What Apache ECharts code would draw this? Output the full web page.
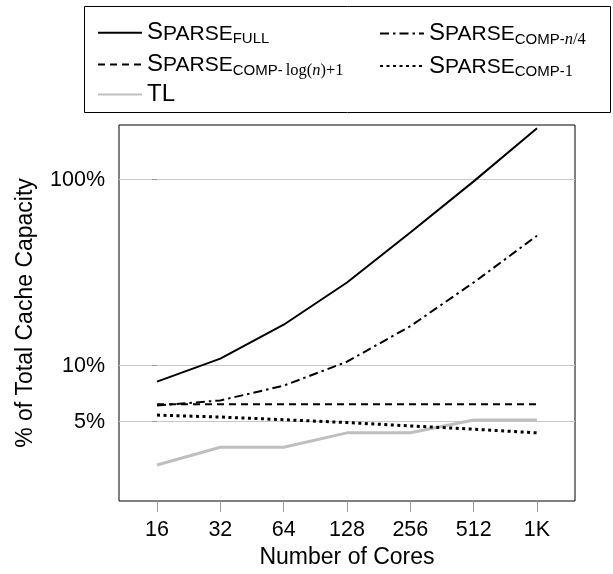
<!DOCTYPE html>
<html>
<head>
<meta charset="utf-8">
<script src="https://cdn.jsdelivr.net/npm/echarts@6/dist/echarts.min.js"></script>
<style>html,body{margin:0;padding:0;background:#fff;}#c{width:613px;height:574px;}</style>
</head>
<body>
<div id="c"></div>
<script>
// ---- data ----
var cores = ['16', '32', '64', '128', '256', '512', '1K'];
var sparseFull    = [8.2, 10.9, 16.6, 28.0, 52.0, 98.0, 189.0];
var sparseCompN4  = [6.1, 6.5, 7.8, 10.5, 16.3, 28.0, 50.0];
var sparseCompLog = [6.2, 6.2, 6.2, 6.2, 6.2, 6.2, 6.2];
var sparseComp1   = [5.42, 5.29, 5.12, 4.94, 4.74, 4.55, 4.35];
var tl            = [2.92, 3.64, 3.64, 4.35, 4.35, 5.1, 5.1];
var yTicks = [5, 10, 100];

function pts(arr) { return arr.map(function (v, i) { return [i, v]; }); }
var xTicks = cores.map(function (c, i) { return i; });

var FONT = 'Liberation Sans';
var SERIF = 'Liberation Serif';
var LH = 28;
var rich = {
  S:  { fontFamily: FONT, fontSize: 24, lineHeight: LH, color: '#000' },
  C:  { fontFamily: FONT, fontSize: 21, lineHeight: LH, color: '#000', padding: [2.4, 0, 0, 0] },
  b:  { fontFamily: FONT, fontSize: 15, lineHeight: LH, color: '#000', padding: [12.5, 0, 0, 0] },
  bm: { fontFamily: SERIF, fontSize: 16.5, lineHeight: LH, color: '#000', padding: [12, 0, 0, 0] },
  bi: { fontFamily: SERIF, fontStyle: 'italic', fontSize: 16.5, lineHeight: LH, color: '#000', padding: [12, 0, 0, 0] }
};
var labels = {
  'SparseFull':    '{S|S}{C|PARSE}{b|FULL}',
  'SparseCompN4':  '{S|S}{C|PARSE}{b|COMP-}{bi|n}{bm|/4}',
  'SparseCompLog': '{S|S}{C|PARSE}{b|COMP-\u2009}{bm|log(}{bi|n}{bm|)+1}',
  'SparseComp1':   '{S|S}{C|PARSE}{b|COMP-}{bm|1}',
  'TL':            '{S|TL}'
};

function legendAt(left, names) {
  return {
    left: left, top: 14,
    data: names,
    orient: 'vertical',
    itemWidth: 44,
    itemHeight: 14,
    itemGap: 3.5,
    itemStyle: { opacity: 0 },
    formatter: function (n) { return labels[n]; },
    textStyle: { rich: rich, fontFamily: FONT, fontSize: 24, color: '#000' },
    selectedMode: false
  };
}

var chart = echarts.init(document.getElementById('c'), null, { renderer: 'canvas' });
chart.setOption({
  animation: false,
  backgroundColor: '#fff',
  graphic: [{
    type: 'rect', left: 84, top: 6, z: -1,
    shape: { width: 526, height: 106 },
    style: { fill: '#fff', stroke: '#000', lineWidth: 1 }
  }],
  legend: [
    legendAt(92, ['SparseFull', 'SparseCompLog', 'TL']),
    legendAt(374, ['SparseCompN4', 'SparseComp1'])
  ],
  grid: { left: 119, right: 38, top: 125, bottom: 73, show: true, borderColor: '#000', borderWidth: 1, backgroundColor: 'transparent' },
  xAxis: {
    type: 'value', min: -0.6, max: 6.6,
    name: 'Number of Cores', nameLocation: 'middle', nameGap: 45,
    nameTextStyle: { fontFamily: FONT, fontSize: 23, color: '#000' },
    axisLine: { show: false },
    axisTick: { show: true, length: 11, lineStyle: { color: '#999' }, customValues: xTicks },
    axisLabel: { fontFamily: FONT, fontSize: 21.5, color: '#000', margin: 18, customValues: xTicks,
      formatter: function (v) { return cores[Math.round(v)]; } },
    splitLine: { show: false }
  },
  yAxis: {
    type: 'log', logBase: 10, min: 1.87, max: 197,
    name: '% of Total Cache Capacity', nameLocation: 'middle', nameGap: 82,
    nameTextStyle: { fontFamily: FONT, fontSize: 23, color: '#000' },
    axisLine: { show: false },
    axisTick: { show: true, length: 5, lineStyle: { color: '#999' }, customValues: yTicks },
    axisLabel: { fontFamily: FONT, fontSize: 21.5, color: '#000', margin: 14, customValues: yTicks,
      formatter: function (v) { return v + '%'; } },
    splitLine: { show: true, lineStyle: { color: '#c8c8c8', width: 1 } },
    minorTick: { show: false }
  },
  series: [
    { name: 'SparseFull', type: 'line', data: pts(sparseFull), symbol: 'none', z: 5,
      lineStyle: { color: '#000', width: 2, type: 'solid' }, itemStyle: { color: '#000' } },
    { name: 'SparseCompN4', type: 'line', data: pts(sparseCompN4), symbol: 'none', z: 5,
      lineStyle: { color: '#000', width: 2, type: [9, 4, 2.5, 4] }, itemStyle: { color: '#000' } },
    { name: 'SparseCompLog', type: 'line', data: pts(sparseCompLog), symbol: 'none', z: 5,
      lineStyle: { color: '#000', width: 2, type: [7, 5] }, itemStyle: { color: '#000' } },
    { name: 'SparseComp1', type: 'line', data: pts(sparseComp1), symbol: 'none', z: 5,
      lineStyle: { color: '#000', width: 3, type: [3, 3.5] }, itemStyle: { color: '#000' } },
    { name: 'TL', type: 'line', data: pts(tl), symbol: 'none', z: 4,
      lineStyle: { color: '#bfbfbf', width: 3, type: 'solid' }, itemStyle: { color: '#bfbfbf' } }
  ]
});
</script>
</body>
</html>
